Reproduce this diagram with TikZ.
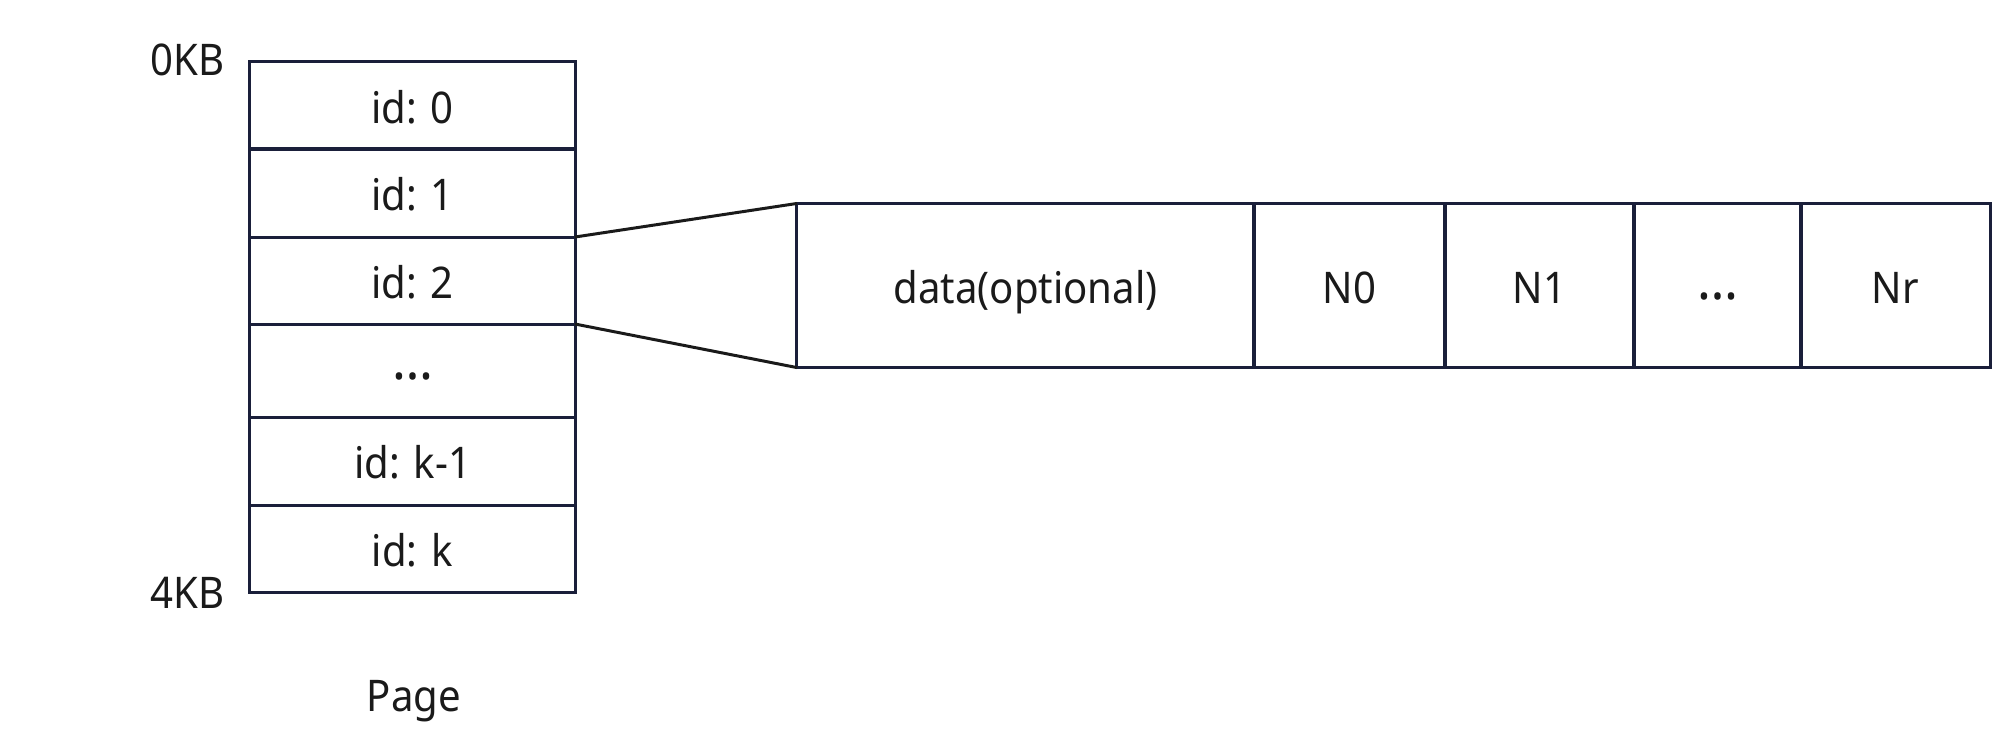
\documentclass[tikz,border=0pt]{standalone}
\usepackage{fontspec}
\setmainfont[FakeStretch=0.92]{Noto Sans}
\usepackage{xcolor}
\definecolor{framenavy}{RGB}{26, 31, 58}
\definecolor{textdark}{RGB}{26, 26, 26}

\begin{document}
\begin{tikzpicture}[x=0.01cm, y=-0.01cm,
    label/.style={text=textdark, font=\fontsize{12.4}{14}\selectfont, inner sep=0pt,
      text height=10.4pt, text depth=0.4pt},
    cell/.style={label, draw=framenavy, line width=0.85pt, outer sep=0pt}]
    \useasboundingbox (0, 0) rectangle (1994, 747);
    % page slots
    \node[cell, minimum width=3.25cm, minimum height=0.87cm] (slot0) at (412.5, 105.5) {id: 0};
    \node[cell, minimum width=3.25cm, minimum height=0.88cm] (slot1) at (412.5, 193) {id: 1};
    \node[cell, minimum width=3.25cm, minimum height=0.87cm] (slot2) at (412.5, 280.5) {id: 2};
    \node[cell, minimum width=3.25cm, minimum height=0.93cm] (slotdots) at (412.5, 370.5) {\raisebox{0.2em}{\fontsize{16}{18}\selectfont …}};
    \node[cell, minimum width=3.25cm, minimum height=0.88cm] (slotk1) at (412.5, 461) {id: k-1};
    \node[cell, minimum width=3.25cm, minimum height=0.87cm] (slotk) at (412.5, 548.5) {id: k};
    \node[label] (kb0) at (187.5, 57.5) {0KB};
    \node[label] (kb4) at (187.5, 591) {4KB};
    \node[label] (page) at (414, 694) {Page};
    % record layout
    \node[cell, minimum width=4.57cm, minimum height=1.64cm] (data) at (1025.5, 285.5) {data(optional)};
    \node[cell, minimum width=1.91cm, minimum height=1.64cm] (n0) at (1349.5, 285.5) {N0};
    \node[cell, minimum width=1.89cm, minimum height=1.64cm] (n1) at (1539.5, 285.5) {N1};
    \node[cell, minimum width=1.67cm, minimum height=1.64cm] (ndots) at (1717.5, 285.5) {\raisebox{0.08em}{\fontsize{16}{18}\selectfont …}};
    \node[cell, minimum width=1.89cm, minimum height=1.64cm] (nr) at (1895.5, 285.5) {Nr};
    \draw[textdark, line width=0.85pt] (slot2.north east) -- (data.north west);
    \draw[textdark, line width=0.85pt] (slot2.south east) -- (data.south west);
\end{tikzpicture}
\end{document}
